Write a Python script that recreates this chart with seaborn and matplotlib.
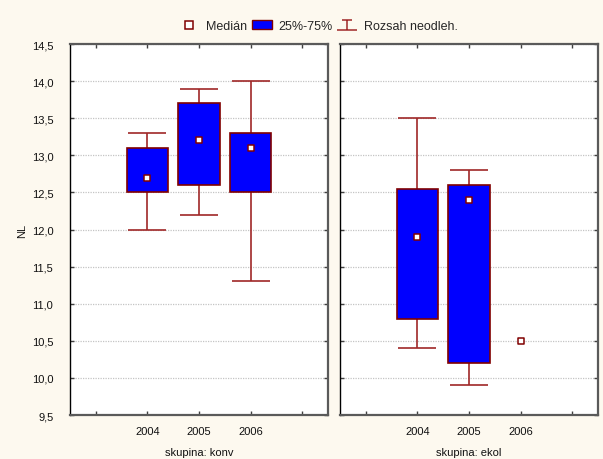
import matplotlib
matplotlib.use("Agg")
import matplotlib.pyplot as plt
from matplotlib.patches import Patch
from matplotlib.lines import Line2D
from matplotlib.path import Path
from matplotlib.ticker import FuncFormatter, MultipleLocator
import numpy as np
import pandas as pd
import seaborn as sns

# --- data -------------------------------------------------------------
years = ["2004", "2005", "2006"]
groups = ["konv", "ekol"]

median_konv = [12.7, 13.2, 13.1]
q1_konv = [12.5, 12.6, 12.5]
q3_konv = [13.1, 13.7, 13.3]
min_konv = [12.0, 12.2, 11.3]
max_konv = [13.3, 13.9, 14.0]

median_ekol = [11.9, 12.4, 10.5]
q1_ekol = [10.8, 10.2, 10.5]
q3_ekol = [12.55, 12.6, 10.5]
min_ekol = [10.4, 9.9, 10.5]
max_ekol = [13.5, 12.8, 10.5]

rows = []
for g, med, q1, q3, lo, hi in [
    ("konv", median_konv, q1_konv, q3_konv, min_konv, max_konv),
    ("ekol", median_ekol, q1_ekol, q3_ekol, min_ekol, max_ekol),
]:
    for i, y in enumerate(years):
        rows.append(dict(skupina=g, rok=y, pos=i + 1, median=med[i],
                         q1=q1[i], q3=q3[i], lo=lo[i], hi=hi[i]))
df = pd.DataFrame(rows)

# --- style ------------------------------------------------------------
sns.set_theme(style="white")
plt.rcParams["font.family"] = ["Liberation Sans", "DejaVu Sans"]
plt.rcParams["font.size"] = 8

BG = "#FDF9EF"
BOX = "#0000FF"
EDGE = "#800000"
WHISK = "#A02828"
TXT = "#111111"

fig = plt.figure(figsize=(6.03, 4.60), dpi=100, facecolor=BG)
ax_l = fig.add_axes([70 / 603, 1 - 416 / 460, 258 / 603, 371 / 460])
ax_r = fig.add_axes([340 / 603, 1 - 416 / 460, 258 / 603, 371 / 460])

comma = FuncFormatter(lambda v, p: f"{v:.1f}".replace(".", ","))

for ax, g in [(ax_l, "konv"), (ax_r, "ekol")]:
    sub = df[df["skupina"] == g]
    ax.set_facecolor("white")

    # whiskers (range of values)
    rng = sub[sub["hi"] > sub["lo"]]
    ax.errorbar(rng["pos"], rng["median"],
                yerr=[rng["median"] - rng["lo"], rng["hi"] - rng["median"]],
                fmt="none", ecolor=WHISK, elinewidth=1.2, capsize=14,
                capthick=1.2, zorder=2)

    # interquartile boxes
    bx = sub[sub["q3"] > sub["q1"]]
    ax.bar(bx["pos"], bx["q3"] - bx["q1"], bottom=bx["q1"], width=0.8,
           color=BOX, edgecolor=EDGE, linewidth=1.2, zorder=3)

    # medians
    sns.scatterplot(data=sub, x="pos", y="median", ax=ax, marker="s", s=22,
                    color="white", edgecolor=EDGE, linewidth=1.1, zorder=4,
                    legend=False)

    ax.set_xlim(-0.5, 4.5)
    ax.set_xticks([0, 1, 2, 3, 4])
    ax.set_xticklabels([""] + years + [""])
    ax.set_ylim(9.5, 14.5)
    ax.yaxis.set_major_locator(MultipleLocator(0.5))
    ax.yaxis.set_major_formatter(comma)
    ax.grid(axis="y", color="#c4c4c4", linestyle=(0, (1, 1)), linewidth=0.9,
            zorder=0)
    ax.set_axisbelow(True)
    ax.tick_params(direction="in", length=3, width=1, color="#404040",
                   top=True, right=True, left=True, bottom=True,
                   labelsize=8, labelcolor=TXT)
    ax.tick_params(axis="x", pad=8)
    ax.tick_params(axis="y", pad=12)
    ax.set_ylabel("")
    ax.set_xlabel(f"skupina: {g}", fontsize=8, color=TXT)
    ax.xaxis.set_label_coords(0.5, -(453 - 416) / 371)
    ax.xaxis.label.set_verticalalignment("center")
    for side in ["top", "right", "bottom"]:
        ax.spines[side].set_color("#5a5a5a")
        ax.spines[side].set_linewidth(1.6)
    ax.spines["left"].set_color("black")
    ax.spines["left"].set_linewidth(1.0)

ax_r.tick_params(labelleft=False)
ax_l.set_ylabel("NL", fontsize=8, color=TXT)
ax_l.yaxis.set_label_coords(-(70 - 22) / 258, 0.5)
ax_l.yaxis.label.set_verticalalignment("center")

# legend: I-beam symbol for the range
ibeam = Path([(-0.5, 0.5), (0.5, 0.5), (0, 0.5), (0, -0.5), (-1, -0.5), (1, -0.5)],
             [Path.MOVETO, Path.LINETO, Path.MOVETO, Path.LINETO,
              Path.MOVETO, Path.LINETO])
handles = [
    Line2D([], [], marker="s", linestyle="none", markersize=6,
           markerfacecolor="white", markeredgecolor=EDGE, markeredgewidth=1.1),
    Patch(facecolor=BOX, edgecolor=EDGE, linewidth=1.0),
    Line2D([], [], marker=ibeam, linestyle="none", markersize=15,
           markerfacecolor="none", markeredgecolor=WHISK, markeredgewidth=1.1),
]
labels = ["Medián", "25%-75%", "Rozsah neodleh."]
fig.legend(handles, labels, loc="center", bbox_to_anchor=(0.528, 1 - 27 / 460),
           ncol=3, frameon=False, fontsize=9, handlelength=1.6,
           handletextpad=0.5, columnspacing=0.4)

fig.savefig("out.png", dpi=100, facecolor=BG)
